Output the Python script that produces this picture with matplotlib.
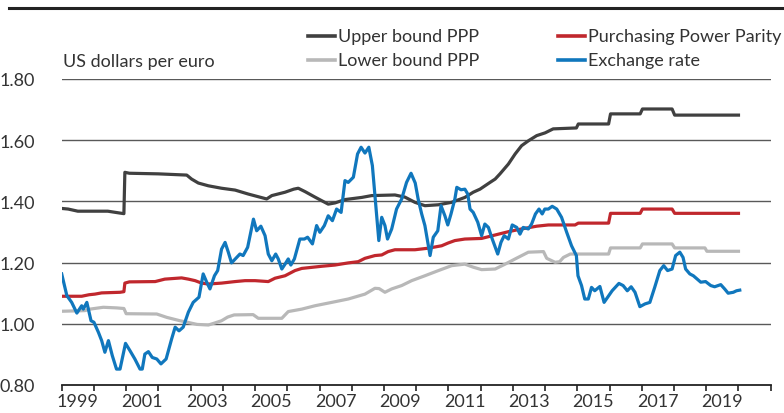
import matplotlib
matplotlib.use("Agg")
import matplotlib.pyplot as plt
from matplotlib.lines import Line2D

plt.rcParams['font.family'] = ['Lato', 'DejaVu Sans']

# ---- data (decimal years, US dollars per euro) ----
fx_t = [1999.00, 1999.16, 1999.31, 1999.47, 1999.62, 1999.67, 1999.78, 1999.91, 2000.00, 2000.14,
        2000.24, 2000.34, 2000.45, 2000.57, 2000.70, 2000.81, 2000.98, 2001.12, 2001.27, 2001.43,
        2001.50, 2001.58, 2001.69, 2001.81, 2001.95, 2002.08, 2002.24, 2002.41, 2002.52, 2002.64,
        2002.77, 2002.93, 2003.08, 2003.26, 2003.39, 2003.50, 2003.60, 2003.74, 2003.84, 2003.96,
        2004.07, 2004.17, 2004.27, 2004.43, 2004.53, 2004.63, 2004.77, 2004.95, 2005.05, 2005.18,
        2005.31, 2005.41, 2005.52, 2005.64, 2005.72, 2005.83, 2005.93, 2006.03, 2006.11, 2006.22,
        2006.39, 2006.53, 2006.63, 2006.78, 2006.91, 2007.01, 2007.15, 2007.27, 2007.40, 2007.53,
        2007.67, 2007.79, 2007.89, 2008.05, 2008.18, 2008.29, 2008.41, 2008.53, 2008.64, 2008.72,
        2008.84, 2008.93, 2009.03, 2009.11, 2009.24, 2009.39, 2009.55, 2009.70, 2009.84, 2009.97,
        2010.06, 2010.17, 2010.27, 2010.43, 2010.53, 2010.67, 2010.77, 2010.89, 2010.98, 2011.08,
        2011.20, 2011.26, 2011.39, 2011.51, 2011.60, 2011.67, 2011.77, 2011.91, 2012.03, 2012.13,
        2012.24, 2012.36, 2012.53, 2012.63, 2012.73, 2012.86, 2012.98, 2013.12, 2013.22, 2013.32,
        2013.48, 2013.58, 2013.70, 2013.81, 2013.91, 2013.99, 2014.10, 2014.22, 2014.36, 2014.51,
        2014.67, 2014.82, 2014.97, 2015.02, 2015.13, 2015.23, 2015.34, 2015.44, 2015.54, 2015.70,
        2015.83, 2015.94, 2016.08, 2016.29, 2016.42, 2016.55, 2016.67, 2016.79, 2016.94, 2017.10,
        2017.25, 2017.40, 2017.56, 2017.68, 2017.80, 2017.94, 2018.05, 2018.18, 2018.28, 2018.36,
        2018.49, 2018.60, 2018.83, 2018.98, 2019.14, 2019.26, 2019.45, 2019.57, 2019.68, 2019.84,
        2019.94, 2020.04]
fx_v = [1.163, 1.092, 1.070, 1.035, 1.059, 1.048, 1.070, 1.010, 1.005, 0.972,
        0.945, 0.907, 0.945, 0.896, 0.852, 0.852, 0.936, 0.912, 0.885, 0.852,
        0.852, 0.901, 0.909, 0.890, 0.885, 0.869, 0.885, 0.950, 0.989, 0.977,
        0.989, 1.038, 1.070, 1.087, 1.163, 1.136, 1.114, 1.157, 1.174, 1.244,
        1.266, 1.234, 1.199, 1.217, 1.228, 1.223, 1.250, 1.342, 1.304, 1.319,
        1.288, 1.228, 1.206, 1.228, 1.212, 1.179, 1.195, 1.212, 1.192, 1.212,
        1.277, 1.277, 1.283, 1.261, 1.321, 1.299, 1.321, 1.353, 1.337, 1.375,
        1.364, 1.468, 1.462, 1.479, 1.555, 1.577, 1.558, 1.577, 1.517, 1.419,
        1.272, 1.348, 1.321, 1.277, 1.310, 1.375, 1.408, 1.462, 1.492, 1.460,
        1.408, 1.359, 1.321, 1.223, 1.283, 1.304, 1.386, 1.353, 1.323, 1.359,
        1.408, 1.446, 1.438, 1.440, 1.424, 1.375, 1.364, 1.332, 1.288, 1.326,
        1.315, 1.277, 1.228, 1.266, 1.288, 1.277, 1.323, 1.315, 1.293, 1.315,
        1.310, 1.326, 1.359, 1.375, 1.359, 1.375, 1.375, 1.384, 1.375, 1.348,
        1.299, 1.255, 1.223, 1.157, 1.125, 1.081, 1.081, 1.119, 1.108, 1.122,
        1.070, 1.087, 1.108, 1.132, 1.125, 1.108, 1.121, 1.103, 1.056, 1.065,
        1.070, 1.119, 1.174, 1.190, 1.174, 1.179, 1.223, 1.234, 1.217, 1.179,
        1.163, 1.157, 1.136, 1.138, 1.125, 1.121, 1.128, 1.114, 1.100, 1.103,
        1.108, 1.110]

upper_t = [1999.00, 1999.20, 1999.50, 2000.43, 2000.80, 2000.93, 2000.96, 2001.10, 2002.00, 2002.88,
           2003.03, 2003.24, 2003.55, 2003.96, 2004.38, 2004.79, 2005.36, 2005.52, 2005.93, 2006.20,
           2006.34, 2006.55, 2006.86, 2007.27, 2007.48, 2007.79, 2008.31, 2008.62, 2009.34, 2009.65,
           2009.96, 2010.27, 2010.69, 2011.10, 2011.51, 2011.77, 2011.98, 2012.29, 2012.45, 2012.60,
           2012.86, 2013.07, 2013.27, 2013.48, 2013.74, 2014.00, 2014.25, 2014.72, 2014.97, 2015.03,
           2015.97, 2016.03, 2016.95, 2017.02, 2017.94, 2018.02, 2020.00]
upper_v = [1.377, 1.375, 1.368, 1.368, 1.362, 1.360, 1.495, 1.492, 1.490, 1.486,
           1.473, 1.460, 1.451, 1.443, 1.437, 1.424, 1.408, 1.419, 1.430, 1.440,
           1.443, 1.432, 1.414, 1.391, 1.395, 1.406, 1.413, 1.419, 1.421, 1.414,
           1.397, 1.386, 1.389, 1.397, 1.413, 1.430, 1.440, 1.462, 1.473, 1.490,
           1.522, 1.555, 1.582, 1.598, 1.615, 1.624, 1.637, 1.639, 1.640, 1.653,
           1.653, 1.686, 1.686, 1.702, 1.702, 1.682, 1.682]

ppp_t = [1999.00, 1999.62, 1999.85, 2000.03, 2000.24, 2000.81, 2000.93, 2000.96, 2001.10, 2001.90,
         2002.20, 2002.72, 2002.93, 2003.14, 2003.34, 2003.55, 2003.96, 2004.38, 2004.69, 2005.00,
         2005.41, 2005.62, 2005.93, 2006.24, 2006.45, 2007.07, 2007.48, 2007.89, 2008.20, 2008.41,
         2008.72, 2008.93, 2009.13, 2009.34, 2009.96, 2010.37, 2010.79, 2010.99, 2011.20, 2011.51,
         2012.03, 2012.44, 2012.86, 2013.27, 2013.74, 2014.10, 2014.93, 2015.03, 2015.97, 2016.03,
         2016.95, 2017.02, 2017.94, 2018.02, 2020.00]
ppp_v = [1.090, 1.090, 1.095, 1.097, 1.101, 1.103, 1.105, 1.133, 1.137, 1.138,
         1.146, 1.150, 1.146, 1.141, 1.133, 1.130, 1.133, 1.138, 1.141, 1.141,
         1.138, 1.149, 1.157, 1.174, 1.181, 1.188, 1.192, 1.199, 1.203, 1.214,
         1.223, 1.225, 1.236, 1.242, 1.242, 1.247, 1.255, 1.264, 1.272, 1.277,
         1.279, 1.290, 1.301, 1.310, 1.319, 1.323, 1.323, 1.329, 1.329, 1.361,
         1.361, 1.375, 1.375, 1.361, 1.361]

lower_t = [1999.00, 1999.72, 1999.88, 2000.29, 2000.70, 2000.93, 2001.00, 2001.95, 2002.26, 2002.67,
           2002.90, 2003.20, 2003.55, 2003.76, 2003.96, 2004.15, 2004.35, 2004.94, 2005.10, 2005.83,
           2006.03, 2006.45, 2006.86, 2007.38, 2007.89, 2008.41, 2008.72, 2008.85, 2009.03, 2009.24,
           2009.55, 2009.86, 2010.27, 2010.69, 2011.10, 2011.51, 2011.77, 2012.03, 2012.45, 2012.76,
           2013.07, 2013.48, 2013.95, 2014.05, 2014.31, 2014.45, 2014.57, 2014.78, 2015.97, 2016.03,
           2016.95, 2017.02, 2017.94, 2018.02, 2018.96, 2019.02, 2020.00]
lower_v = [1.041, 1.043, 1.048, 1.054, 1.052, 1.050, 1.033, 1.032, 1.021, 1.010,
           1.005, 0.998, 0.996, 1.003, 1.010, 1.022, 1.029, 1.030, 1.018, 1.018,
           1.040, 1.048, 1.059, 1.070, 1.081, 1.097, 1.116, 1.115, 1.103, 1.114,
           1.125, 1.141, 1.157, 1.174, 1.190, 1.195, 1.185, 1.177, 1.179, 1.195,
           1.212, 1.234, 1.236, 1.214, 1.201, 1.203, 1.217, 1.228, 1.228, 1.248,
           1.248, 1.261, 1.261, 1.248, 1.248, 1.237, 1.237]

yticks = [0.80, 1.00, 1.20, 1.40, 1.60, 1.80]
year_labels = ['1999', '2001', '2003', '2005', '2007', '2009', '2011', '2013', '2015', '2017', '2019']

# ---- style ----
C_UP = '#404040'
C_PPP = '#c0272d'
C_LOW = '#b8b8b8'
C_FX = '#1077bd'
TXT = '#333333'
FS = 13

fig = plt.figure(figsize=(7.84, 4.14), dpi=100)
ax = fig.add_axes([61.7 / 784, 28 / 414, 709 / 784, 306 / 414])

LW = 2.3
ax.plot(upper_t, upper_v, color=C_UP, lw=LW, solid_joinstyle='round', zorder=3)
ax.plot(lower_t, lower_v, color=C_LOW, lw=LW, solid_joinstyle='round', zorder=3)
ax.plot(ppp_t, ppp_v, color=C_PPP, lw=LW, solid_joinstyle='round', zorder=4)
ax.plot(fx_t, fx_v, color=C_FX, lw=LW, solid_joinstyle='round', zorder=5)

ax.set_xlim(1999, 2021)
ax.set_ylim(0.80, 1.80)

for s in ['left', 'right', 'top']:
    ax.spines[s].set_visible(False)
ax.spines['bottom'].set_color('#222222')
ax.spines['bottom'].set_linewidth(1.3)

ax.set_yticks(yticks)
ax.set_yticklabels([f'{v:.2f}' for v in yticks])
ax.tick_params(axis='y', length=0, pad=19, labelsize=FS, labelcolor=TXT)
for v in yticks[1:]:
    ax.axhline(v, color='#595959', lw=1.0, zorder=1)

ax.set_xticks(list(range(1999, 2022)))
ax.set_xticklabels([])
ax.set_xticks([int(y) + 0.5 for y in year_labels], minor=True)
ax.set_xticklabels(year_labels, minor=True)
ax.tick_params(axis='x', which='major', length=4, width=1.2, color='#222222', direction='out')
ax.tick_params(axis='x', which='minor', length=0, pad=6, labelsize=FS, labelcolor=TXT)

# y unit label
fig.text(63 / 784, 1 - 62 / 414, 'US dollars per euro', fontsize=FS, color=TXT, va='center', ha='left')

# legend (manual)
def leg(x0, y, color, label):
    fig.add_artist(Line2D([x0 / 784, (x0 + 27) / 784], [1 - y / 414, 1 - y / 414],
                          color=color, lw=2.6, transform=fig.transFigure))
    fig.text((x0 + 30) / 784, 1 - y / 414, label, fontsize=FS, color=TXT, va='center', ha='left')

leg(308, 37, C_UP, 'Upper bound PPP')
leg(308, 61, C_LOW, 'Lower bound PPP')
leg(558, 37, C_PPP, 'Purchasing Power Parity')
leg(558, 61, C_FX, 'Exchange rate')

# top rule
fig.add_artist(Line2D([9 / 784, 1.0], [1 - 9 / 414, 1 - 9 / 414], color='#222222', lw=2.2,
                      transform=fig.transFigure))

fig.savefig('out.png', dpi=100)
